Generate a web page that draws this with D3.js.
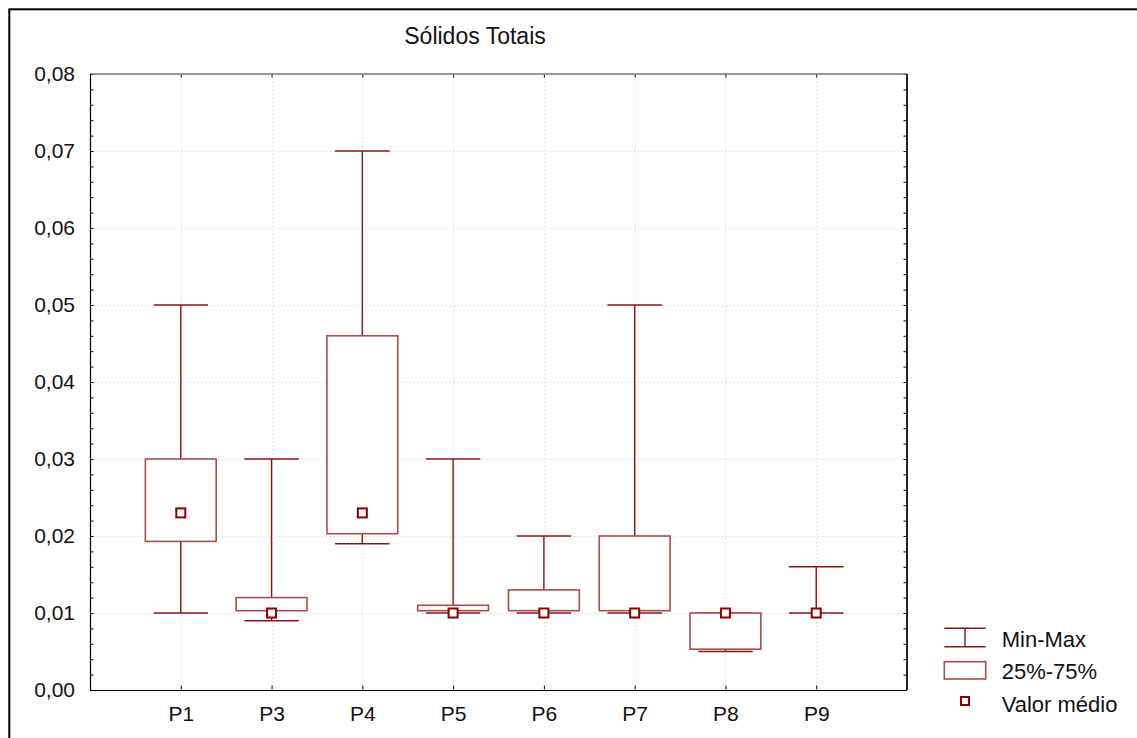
<!DOCTYPE html>
<html>
<head>
<meta charset="utf-8">
<script src="https://cdn.jsdelivr.net/npm/d3@7"></script>
<style>
  html, body { margin: 0; padding: 0; background: #fff; }
  svg { display: block; font-family: "Liberation Sans", Arial, sans-serif; }
</style>
</head>
<body>
<svg id="chart" width="1137" height="738"></svg>
<script>
// Sólidos Totais por ponto de amostragem
const categories = ["P1", "P3", "P4", "P5", "P6", "P7", "P8", "P9"];
const minVals  = [0.010, 0.009, 0.019, 0.010, 0.010, 0.010, 0.005, 0.010];
const q1Vals   = [0.0193, 0.0103, 0.0203, 0.0103, 0.0103, 0.0103, 0.0053, 0.0100];
const q3Vals   = [0.030, 0.012, 0.046, 0.011, 0.013, 0.020, 0.010, 0.010];
const maxVals  = [0.050, 0.030, 0.070, 0.030, 0.020, 0.050, 0.010, 0.016];
const meanVals = [0.023, 0.010, 0.023, 0.010, 0.010, 0.010, 0.010, 0.010];

const yTicks = [0, 0.01, 0.02, 0.03, 0.04, 0.05, 0.06, 0.07, 0.08];
const yTickLabels = ["0,00", "0,01", "0,02", "0,03", "0,04", "0,05", "0,06", "0,07", "0,08"];
const legendLabels = ["Min-Max", "25%-75%", "Valor médio"];
const titleText = "Sólidos Totais";

const svg = d3.select("#chart");
const W = 1137, H = 738;
const plot = { left: 90, right: 907, top: 74, bottom: 690 };

const lineColor = "#8b1414";
const boxColor = "#a84c4c";
const gridColor = "#c8c8c8";

// outer frame (runs past the right and bottom edges)
svg.append("rect")
  .attr("x", 9.3).attr("y", 9.3)
  .attr("width", W + 20).attr("height", H + 20)
  .attr("fill", "none").attr("stroke", "#000").attr("stroke-width", 2);

const x = d3.scalePoint().domain(categories).range([plot.left, plot.right]).padding(1);
const y = d3.scaleLinear().domain([0, 0.08]).range([plot.bottom, plot.top]);
const step = x.step();

// grid
const grid = svg.append("g");
grid.selectAll("line.gy").data(yTicks.slice(1, -1)).join("line")
  .attr("x1", plot.left).attr("x2", plot.right)
  .attr("y1", d => Math.round(y(d)) + 0.5).attr("y2", d => Math.round(y(d)) + 0.5)
  .attr("stroke", gridColor).attr("stroke-dasharray", "1,3");
grid.selectAll("line.gx").data(categories).join("line")
  .attr("x1", d => Math.round(x(d)) + 0.5).attr("x2", d => Math.round(x(d)) + 0.5)
  .attr("y1", plot.top).attr("y2", plot.bottom)
  .attr("stroke", gridColor).attr("stroke-dasharray", "1,3");

// minor ticks every 0.002
const minorTicks = d3.range(0, 0.0801, 0.002);

// left axis: inward ticks and labels
svg.append("g")
  .attr("transform", `translate(${plot.left + 0.5},0)`)
  .call(d3.axisRight(y).tickValues(minorTicks).tickSize(3).tickFormat(""))
  .call(g => g.select(".domain").remove())
  .call(g => g.selectAll("line").attr("stroke", "#000"));
svg.append("g")
  .attr("transform", `translate(${plot.left},0)`)
  .call(d3.axisLeft(y).tickValues(yTicks).tickSize(0).tickPadding(15)
    .tickFormat((d, i) => yTickLabels[i]))
  .call(g => g.select(".domain").remove())
  .call(g => g.selectAll("text").attr("font-size", 21).attr("fill", "#111")
    .attr("font-family", "Liberation Sans, Arial, sans-serif"));

// right axis: inward ticks
svg.append("g")
  .attr("transform", `translate(${plot.right - 0.5},0)`)
  .call(d3.axisLeft(y).tickValues(minorTicks).tickSize(3).tickFormat(""))
  .call(g => g.select(".domain").remove())
  .call(g => g.selectAll("line").attr("stroke", "#000"));

// bottom axis: inward ticks and category labels
svg.append("g")
  .attr("transform", `translate(0,${plot.bottom - 0.5})`)
  .call(d3.axisTop(x).tickSize(4).tickFormat(""))
  .call(g => g.select(".domain").remove())
  .call(g => g.selectAll("line").attr("stroke", "#000"));
svg.append("g")
  .attr("transform", `translate(0,${plot.bottom})`)
  .call(d3.axisBottom(x).tickSize(0).tickPadding(16))
  .call(g => g.select(".domain").remove())
  .call(g => g.selectAll("text").attr("font-size", 21).attr("fill", "#111")
    .attr("font-family", "Liberation Sans, Arial, sans-serif"));

// top axis ticks
svg.append("g")
  .attr("transform", `translate(0,${plot.top + 0.5})`)
  .call(d3.axisBottom(x).tickSize(3).tickFormat(""))
  .call(g => g.select(".domain").remove())
  .call(g => g.selectAll("line").attr("stroke", "#000"));

// plot frame
svg.append("line").attr("x1", plot.left).attr("x2", plot.right)
  .attr("y1", plot.top).attr("y2", plot.top)
  .attr("stroke", "#777").attr("stroke-width", 1.6);
svg.append("line").attr("x1", plot.right).attr("x2", plot.right)
  .attr("y1", plot.top).attr("y2", plot.bottom)
  .attr("stroke", "#222").attr("stroke-width", 2);
svg.append("line").attr("x1", plot.left + 0.5).attr("x2", plot.left + 0.5)
  .attr("y1", plot.top).attr("y2", plot.bottom + 0.5)
  .attr("stroke", "#000").attr("stroke-width", 1.2);
svg.append("line").attr("x1", plot.left).attr("x2", plot.right)
  .attr("y1", plot.bottom + 0.5).attr("y2", plot.bottom + 0.5)
  .attr("stroke", "#000").attr("stroke-width", 1.2);

// boxes
const boxHalf = step * 0.39;
const capHalf = step * 0.30;
const rows = categories.map((c, i) => ({
  c, min: minVals[i], q1: q1Vals[i], q3: q3Vals[i], max: maxVals[i], mean: meanVals[i]
}));

const marks = svg.append("g");
rows.forEach(r => {
  const cx = x(r.c);
  const g = marks.append("g");
  // whiskers
  g.append("line").attr("x1", cx).attr("x2", cx)
    .attr("y1", y(r.max)).attr("y2", y(r.q3))
    .attr("stroke", lineColor).attr("stroke-width", 1.4);
  g.append("line").attr("x1", cx).attr("x2", cx)
    .attr("y1", y(r.q1)).attr("y2", y(r.min))
    .attr("stroke", lineColor).attr("stroke-width", 1.4);
  // caps
  [r.max, r.min].forEach(v => {
    g.append("line").attr("x1", cx - capHalf).attr("x2", cx + capHalf)
      .attr("y1", y(v)).attr("y2", y(v))
      .attr("stroke", lineColor).attr("stroke-width", 1.4);
  });
  // interquartile box
  g.append("rect")
    .attr("x", cx - boxHalf).attr("width", boxHalf * 2)
    .attr("y", y(r.q3)).attr("height", Math.max(0, y(r.q1) - y(r.q3)))
    .attr("fill", "#fff").attr("stroke", boxColor).attr("stroke-width", 1.6);
  // mean marker
  g.append("rect")
    .attr("x", cx - 4.5).attr("y", y(r.mean) - 4.5)
    .attr("width", 9).attr("height", 9)
    .attr("fill", "#fff").attr("stroke", "#8b0000").attr("stroke-width", 2);
});

// title
svg.append("text")
  .attr("x", 475).attr("y", 44.3)
  .attr("text-anchor", "middle")
  .attr("font-size", 23).attr("fill", "#111")
  .text(titleText);

// legend
const lg = svg.append("g");
const lx0 = 944.3, lx1 = 985.7, lcx = 965;
lg.append("line").attr("x1", lx0).attr("x2", lx1).attr("y1", 628.3).attr("y2", 628.3)
  .attr("stroke", lineColor).attr("stroke-width", 1.4);
lg.append("line").attr("x1", lx0).attr("x2", lx1).attr("y1", 646.7).attr("y2", 646.7)
  .attr("stroke", lineColor).attr("stroke-width", 1.4);
lg.append("line").attr("x1", lcx).attr("x2", lcx).attr("y1", 628.3).attr("y2", 646.7)
  .attr("stroke", lineColor).attr("stroke-width", 1.4);
lg.append("rect").attr("x", lx0).attr("y", 661.7).attr("width", lx1 - lx0).attr("height", 17.3)
  .attr("fill", "#fff").attr("stroke", boxColor).attr("stroke-width", 1.6);
lg.append("rect").attr("x", lcx - 4).attr("y", 701 - 4).attr("width", 8).attr("height", 8)
  .attr("fill", "#fff").attr("stroke", "#8b0000").attr("stroke-width", 2);
const lys = [647.3, 679, 711.7];
legendLabels.forEach((t, i) => {
  lg.append("text").attr("x", 1001.7).attr("y", lys[i])
    .attr("font-size", 22).attr("fill", "#111").text(t);
});
</script>
</body>
</html>
